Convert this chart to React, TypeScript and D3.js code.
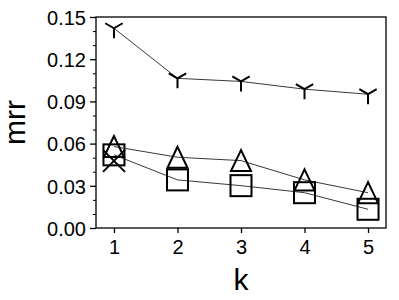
import React, { useEffect, useRef } from "react";
import * as d3 from "d3";

const kValues = [1, 2, 3, 4, 5];
const triDownSeries = [0.142, 0.1064, 0.1042, 0.0987, 0.0951];
const triangleSeries = [0.0579, 0.0503, 0.0479, 0.0342, 0.0251];
const squareSeries = [0.052, 0.0342, 0.0301, 0.0251, 0.0133];
const crossSeries = [0.0477, null, null, null, null];
const yTicks = [0, 0.03, 0.06, 0.09, 0.12, 0.15];

const width = 399;
const height = 300;
const margin = { left: 96, right: 13, top: 17, bottom: 72 };
const font = "'Liberation Sans', Arial, Helvetica, sans-serif";

const App = () => {
  const svgRef = useRef<SVGSVGElement>(null);

  useEffect(() => {
    const svg = d3.select(svgRef.current);
    svg.selectAll("*").remove();

    const x = d3
      .scaleLinear()
      .domain([0.717, 5.283])
      .range([margin.left, width - margin.right]);
    const y = d3
      .scaleLinear()
      .domain([0, 0.15])
      .range([height - margin.bottom, margin.top]);

    // y axis, major + minor ticks
    const yAxis = svg
      .append("g")
      .attr("transform", `translate(${margin.left},0)`)
      .call(
        d3
          .axisLeft(y)
          .tickValues(yTicks)
          .tickSize(6)
          .tickFormat((d) => d3.format(".2f")(d as number))
      );
    svg
      .append("g")
      .attr("transform", `translate(${margin.left},0)`)
      .call(
        d3
          .axisLeft(y)
          .tickValues(d3.range(0, 0.1501, 0.01).filter((v) => Math.round(v * 100) % 3 !== 0))
          .tickSize(3)
          .tickFormat(() => "")
      )
      .select(".domain")
      .remove();

    const xAxis = svg
      .append("g")
      .attr("transform", `translate(0,${height - margin.bottom})`)
      .call(d3.axisBottom(x).tickValues(kValues).tickSize(5).tickFormat(d3.format("d")));

    [yAxis, xAxis].forEach((g) => {
      g.select(".domain").remove();
      g.selectAll(".tick line").attr("stroke", "#000").attr("stroke-width", 1.3);
      g.selectAll(".tick text")
        .attr("font-family", font)
        .attr("font-size", 20)
        .attr("fill", "#000");
    });
    yAxis.selectAll(".tick text").attr("x", -10).attr("dy", "0.36em");
    xAxis.selectAll(".tick text").attr("y", 12);

    // frame
    svg
      .append("rect")
      .attr("x", margin.left)
      .attr("y", margin.top)
      .attr("width", width - margin.left - margin.right)
      .attr("height", height - margin.top - margin.bottom)
      .attr("fill", "none")
      .attr("stroke", "#000")
      .attr("stroke-width", 1.3);

    const lineGen = d3
      .line<number | null>()
      .defined((d) => d !== null)
      .x((_, i) => x(kValues[i]))
      .y((d) => y(d as number));

    const plot = svg.append("g");

    const drawSeries = (data: (number | null)[], marker: (g: any) => void) => {
      plot
        .append("path")
        .attr("d", lineGen(data))
        .attr("fill", "none")
        .attr("stroke", "#222")
        .attr("stroke-width", 0.9);
      plot
        .selectAll(null)
        .data(data.map((v, i) => ({ v, k: kValues[i] })).filter((d) => d.v !== null))
        .join("g")
        .attr("transform", (d) => `translate(${x(d.k)},${y(d.v as number)})`)
        .call(marker);
    };

    const strokeIt = (sel: any) =>
      sel.attr("fill", "none").attr("stroke", "#000").attr("stroke-width", 2);

    drawSeries(triDownSeries, (g) =>
      strokeIt(g.append("path").attr("d", "M0,0V10M0,0L-8.7,-5M0,0L8.7,-5"))
    );
    drawSeries(triangleSeries, (g) =>
      strokeIt(g.append("path").attr("d", "M0,-10.5L-10,10.5L10,10.5Z"))
    );
    drawSeries(squareSeries, (g) =>
      strokeIt(g.append("rect").attr("x", -10.5).attr("y", -10.5).attr("width", 21).attr("height", 21))
    );
    drawSeries(crossSeries, (g) =>
      strokeIt(g.append("path").attr("d", "M-11,-11L11,11M-11,11L11,-11"))
    );

    // axis labels
    svg
      .append("text")
      .attr("x", (margin.left + width - margin.right) / 2)
      .attr("y", 290)
      .attr("text-anchor", "middle")
      .attr("font-family", font)
      .attr("font-size", 30)
      .text("k");
    svg
      .append("text")
      .attr("transform", `translate(25,${(margin.top + height - margin.bottom) / 2}) rotate(-90)`)
      .attr("text-anchor", "middle")
      .attr("font-family", font)
      .attr("font-size", 30)
      .text("mrr");
  }, []);

  return (
    <svg
      ref={svgRef}
      width={width}
      height={height}
      style={{ position: "absolute", left: 0, top: 0, background: "#fff" }}
    />
  );
};

export default App;
